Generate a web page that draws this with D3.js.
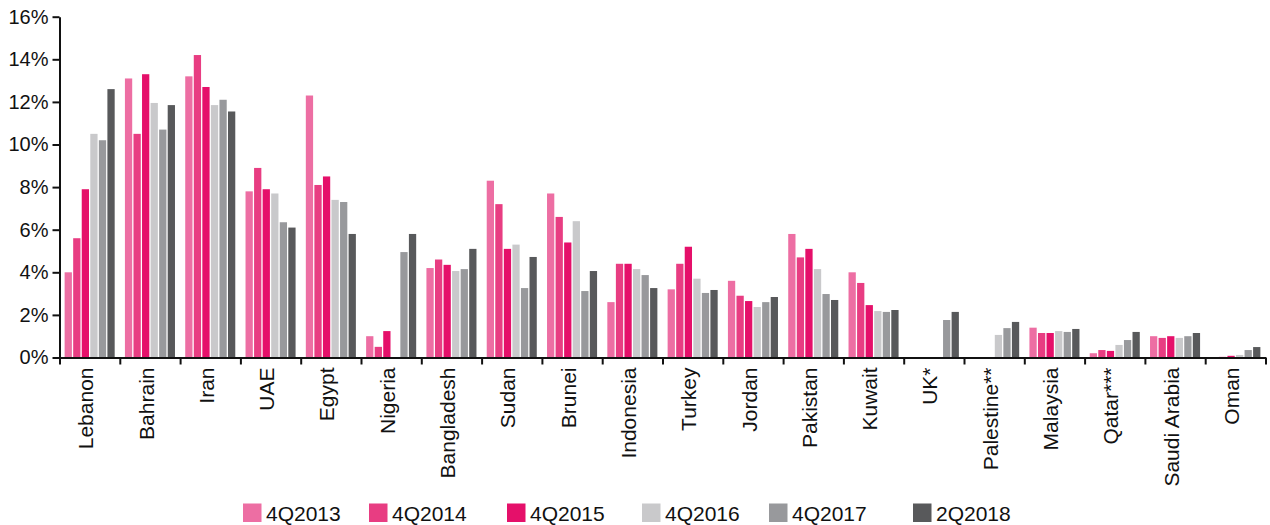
<!DOCTYPE html>
<html>
<head>
<meta charset="utf-8">
<script src="https://cdn.jsdelivr.net/npm/d3@7"></script>
<style>
  html, body { margin: 0; padding: 0; background: #fff; }
  svg { display: block; }
  text { font-family: "Liberation Sans", Arial, sans-serif; fill: #111; }
</style>
</head>
<body>
<svg id="chart" width="1270" height="525"></svg>
<script>
// ---- Data ----
const categories = ["Lebanon","Bahrain","Iran","UAE","Egypt","Nigeria","Bangladesh","Sudan","Brunei","Indonesia","Turkey","Jordan","Pakistan","Kuwait","UK*","Palestine**","Malaysia","Qatar***","Saudi Arabia","Oman"];
const seriesNames = ["4Q2013","4Q2014","4Q2015","4Q2016","4Q2017","2Q2018"];
const s4Q2013 = [4.0, 13.1, 13.2, 7.8, 12.3, 1.0, 4.2, 8.3, 7.7, 2.6, 3.2, 3.6, 5.8, 4.0, null, null, 1.4, 0.2, 1.0, 0.02];
const s4Q2014 = [5.6, 10.5, 14.2, 8.9, 8.1, 0.5, 4.6, 7.2, 6.6, 4.4, 4.4, 2.9, 4.7, 3.5, null, null, 1.15, 0.35, 0.92, 0.03];
const s4Q2015 = [7.9, 13.3, 12.7, 7.9, 8.5, 1.24, 4.35, 5.1, 5.4, 4.4, 5.2, 2.65, 5.1, 2.46, null, null, 1.15, 0.31, 1.0, 0.08];
const s4Q2016 = [10.5, 11.95, 11.85, 7.7, 7.4, null, 4.06, 5.3, 6.4, 4.15, 3.7, 2.37, 4.15, 2.18, null, 1.06, 1.24, 0.59, 0.92, 0.12];
const s4Q2017 = [10.2, 10.7, 12.1, 6.35, 7.3, 4.95, 4.15, 3.26, 3.12, 3.87, 3.03, 2.6, 2.98, 2.14, 1.76, 1.38, 1.2, 0.82, 1.0, 0.35];
const s2Q2018 = [12.6, 11.85, 11.55, 6.1, 5.8, 5.8, 5.1, 4.72, 4.06, 3.26, 3.17, 2.84, 2.7, 2.23, 2.14, 1.67, 1.34, 1.2, 1.15, 0.49];
const seriesValues = [s4Q2013, s4Q2014, s4Q2015, s4Q2016, s4Q2017, s2Q2018];
const yTicks = [0, 2, 4, 6, 8, 10, 12, 14, 16];

// ---- Style / layout ----
const colors = ["#ED6EA3", "#E83D82", "#E5106A", "#C9C9CB", "#98999C", "#58595B"];
const legendX = [243, 369, 507, 642, 769, 913];
const plotLeft = 59.5, plotRight = 1265.5, plotTop = 16.7, plotBottom = 357.5;
const fontSize = 20, labelFontSize = 21;

const svg = d3.select("#chart");

const y = d3.scaleLinear().domain([0, 16]).range([plotBottom, plotTop]);
const pIn = 0.17;
const x0 = d3.scaleBand().domain(categories).range([plotLeft, plotRight]).paddingInner(pIn).paddingOuter(pIn / 2);
const x1 = d3.scaleBand().domain(seriesNames).range([0, x0.bandwidth()]).paddingInner(0.15);

// Bars
const groups = svg.append("g").selectAll("g")
  .data(categories)
  .join("g")
  .attr("transform", d => `translate(${x0(d)},0)`);

groups.selectAll("rect")
  .data((c, ci) => seriesNames.map((s, si) => ({ s, si, v: seriesValues[si][ci] })).filter(d => d.v !== null))
  .join("rect")
  .attr("x", d => x1(d.s))
  .attr("width", x1.bandwidth())
  .attr("y", d => y(d.v))
  .attr("height", d => y(0) - y(d.v))
  .attr("fill", d => colors[d.si]);

// Y axis
const yAxis = svg.append("g")
  .attr("transform", `translate(${plotLeft},0)`)
  .call(d3.axisLeft(y).tickValues(yTicks).tickFormat(d => d + "%").tickSize(7).tickSizeOuter(0).tickPadding(4));
yAxis.selectAll("path, line").attr("stroke", "#111").attr("stroke-width", 2);
yAxis.selectAll("text").attr("font-size", fontSize).attr("font-family", "Liberation Sans, Arial, sans-serif").attr("fill", "#111");

// X axis boundary ticks
const xb = d3.scaleLinear().domain([0, categories.length]).range([plotLeft, plotRight]);
const xAxisTicks = svg.append("g")
  .attr("transform", `translate(0,${plotBottom})`)
  .call(d3.axisBottom(xb).tickValues(d3.range(categories.length + 1)).tickFormat("").tickSize(7).tickSizeOuter(0));
xAxisTicks.selectAll("path, line").attr("stroke", "#111").attr("stroke-width", 2);

// X category labels
const xLabels = svg.append("g")
  .attr("transform", `translate(0,${plotBottom})`)
  .call(d3.axisBottom(x0).tickSize(0).tickPadding(0));
xLabels.select(".domain").remove();
xLabels.selectAll("text")
  .attr("font-size", labelFontSize)
  .attr("font-family", "Liberation Sans, Arial, sans-serif")
  .attr("fill", "#111")
  .attr("text-anchor", "end")
  .attr("transform", "rotate(-90)")
  .attr("x", -10)
  .attr("y", 0)
  .attr("dy", "0.17em");

// Legend
const legend = svg.append("g").selectAll("g")
  .data(seriesNames)
  .join("g")
  .attr("transform", (d, i) => `translate(${legendX[i]},0)`);
legend.append("rect")
  .attr("x", 0).attr("y", 503.5).attr("width", 18.5).attr("height", 18.5)
  .attr("fill", (d, i) => colors[i]);
legend.append("text")
  .attr("x", 23).attr("y", 520.5)
  .attr("font-size", labelFontSize)
  .text(d => d);
</script>
</body>
</html>
